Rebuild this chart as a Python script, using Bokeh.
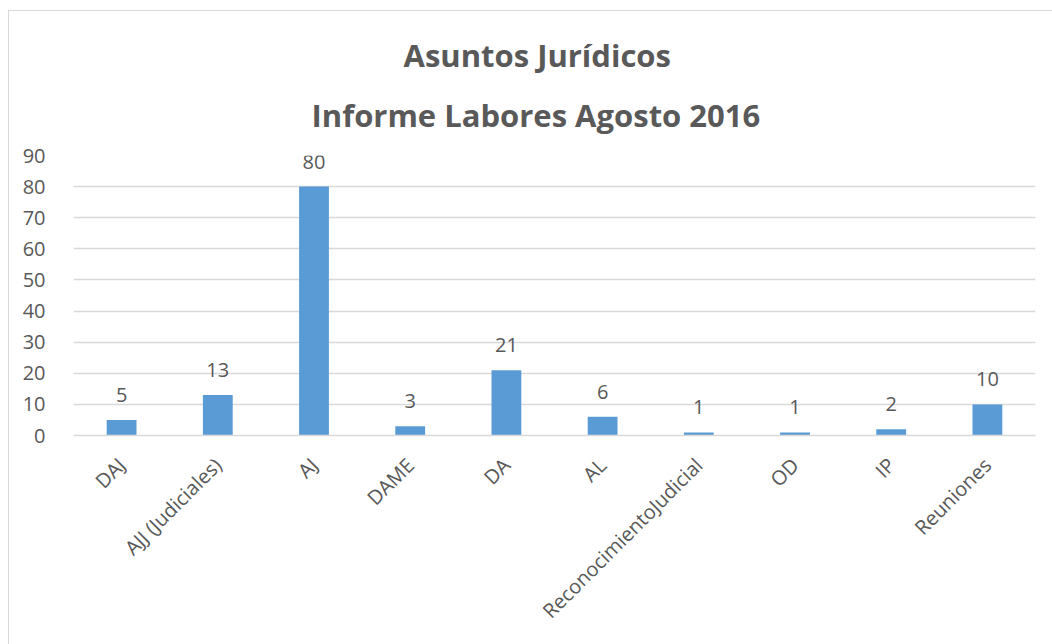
import math
from bokeh.plotting import figure
from bokeh.models import ColumnDataSource, LabelSet, Title, FactorRange, Range1d, FixedTicker
from bokeh.core.properties import value
from bokeh.embed import file_html
from bokeh.resources import INLINE

categories = ["DAJ", "AJJ (Judiciales)", "AJ", "DAME", "DA", "AL",
              "ReconocimientoJudicial", "OD", "IP", "Reuniones"]
values = [5, 13, 80, 3, 21, 6, 1, 1, 2, 10]
y_ticks = [0, 10, 20, 30, 40, 50, 60, 70, 80, 90]
title_line1 = "Asuntos Jurídicos"
title_line2 = "Informe Labores Agosto 2016"

TEXT = "#595959"
FONT = "Open Sans"

src = ColumnDataSource(dict(cat=categories, val=values, lab=[str(v) for v in values]))

p = figure(width=1044, height=634, output_backend="svg", toolbar_location=None,
           x_range=FactorRange(*categories), y_range=Range1d(0, 90),
           title=None, min_border_left=64, min_border_right=18,
           min_border_top=144, min_border_bottom=210)
p.styles = {"border-left": "1.5px solid #D9D9D9", "border-top": "1.5px solid #D9D9D9",
            "margin-left": "8px", "margin-top": "10px"}

p.vbar(x="cat", top="val", width=0.31, source=src, color="#5B9BD5", line_color=None)

labels = LabelSet(x="cat", y="val", text="lab", source=src, text_align="center",
                  text_baseline="bottom", y_offset=18, text_font=value(FONT),
                  text_font_size="20px", text_color=TEXT)
p.add_layout(labels)

t2 = Title(text=title_line2, align="left", vertical_align="top", text_font=FONT,
           text_font_size="31px", text_font_style="bold", text_color=TEXT,
           offset=238, standoff=36)
t1 = Title(text=title_line1, align="left", text_font=FONT, text_font_size="31px",
           text_font_style="bold", text_color=TEXT, offset=330, standoff=0)
p.add_layout(t2, "above")
p.add_layout(t1, "above")

p.outline_line_color = None
p.xgrid.grid_line_color = None
p.ygrid.grid_line_color = "#D9D9D9"
p.ygrid.grid_line_width = 1.3

p.yaxis.ticker = FixedTicker(ticks=y_ticks)
p.yaxis.axis_line_color = None
p.yaxis.major_tick_line_color = None
p.yaxis.minor_tick_line_color = None
p.yaxis.major_label_standoff = 22
p.yaxis.major_label_text_font = FONT
p.yaxis.major_label_text_font_size = "20px"
p.yaxis.major_label_text_color = TEXT

p.xaxis.axis_line_color = "#D9D9D9"
p.xaxis.axis_line_width = 1.3
p.xaxis.major_tick_line_color = None
p.xaxis.minor_tick_line_color = None
p.xaxis.major_label_orientation = math.pi / 4
p.xaxis.major_label_standoff = 20
p.xaxis.major_label_text_font = FONT
p.xaxis.major_label_text_font_size = "20px"
p.xaxis.major_label_text_color = TEXT

open("out.html", "w").write(file_html(p, INLINE))
